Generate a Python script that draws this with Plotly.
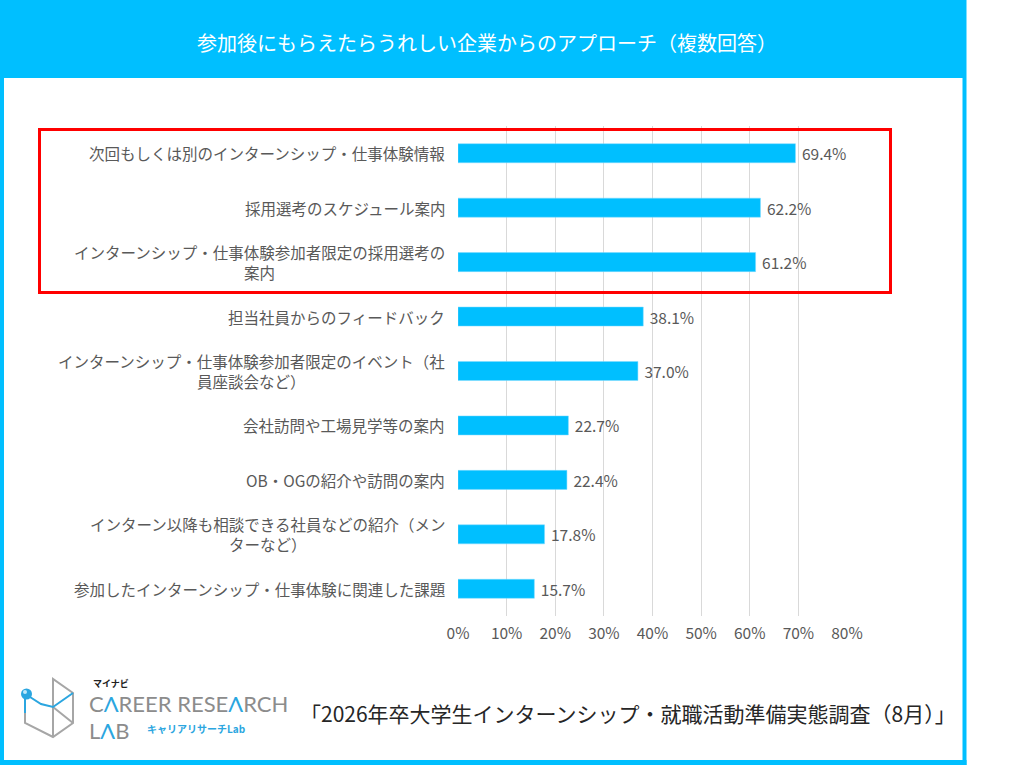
import plotly.graph_objects as go

# ---------------- data ----------------
categories = [
    "次回もしくは別のインターンシップ・仕事体験情報",
    "採用選考のスケジュール案内",
    "インターンシップ・仕事体験参加者限定の採用選考の<br>案内",
    "担当社員からのフィードバック",
    "インターンシップ・仕事体験参加者限定のイベント（社<br>員座談会など）",
    "会社訪問や工場見学等の案内",
    "OB・OGの紹介や訪問の案内",
    "インターン以降も相談できる社員などの紹介（メン<br>ターなど）",
    "参加したインターンシップ・仕事体験に関連した課題",
]
values = [69.4, 62.2, 61.2, 38.1, 37.0, 22.7, 22.4, 17.8, 15.7]
tick_vals = [0, 10, 20, 30, 40, 50, 60, 70, 80]
tick_text = ["0%", "10%", "20%", "30%", "40%", "50%", "60%", "70%", "80%"]
title_text = "参加後にもらえたらうれしい企業からのアプローチ（複数回答）"
source_text = "「2026年卒大学生インターンシップ・就職活動準備実態調査（8月）」"

# ---------------- layout helpers ----------------
FW, FH = 1024, 765
L, R, T, B = 458, 847, 126, 616
W, H = R - L, B - T


def px(x):
    return (x - L) / W


def py(y):
    return 1 - (y - T) / H


CYAN = "#00BFFF"
BLUE = "#2BA6E0"
GRAY_TXT = "#595959"
FONT = "Noto Sans CJK JP"

ids = list(range(len(categories)))

fig = go.Figure()
fig.add_trace(go.Bar(
    x=values,
    y=ids,
    orientation="h",
    width=0.35,
    marker=dict(color=CYAN, line=dict(color="#7FDBFF", width=0.5)),
    text=[f" {v:.1f}%" for v in values],
    textposition="outside",
    constraintext="none",
    textfont=dict(family=FONT, size=15.5, color=GRAY_TXT),
    cliponaxis=False,
    hoverinfo="skip",
))

annotations = []
for i, c in enumerate(categories):
    annotations.append(dict(
        x=px(447), y=i, xref="paper", yref="y", text=c, showarrow=False,
        xanchor="right", yanchor="middle", align="center",
        font=dict(family=FONT, size=15.5, color=GRAY_TXT),
    ))

# title
annotations.append(dict(
    x=px(487), y=py(43), xref="paper", yref="paper", text=title_text,
    showarrow=False, xanchor="center", yanchor="middle",
    font=dict(family=FONT, size=20, color="white"),
))
# source
annotations.append(dict(
    x=px(958), y=py(713), xref="paper", yref="paper", text=source_text,
    showarrow=False, xanchor="right", yanchor="middle",
    font=dict(family=FONT, size=21, color="#262626"),
))
# logo texts
annotations.append(dict(
    x=px(91), y=py(683), xref="paper", yref="paper", text="<b>マイナビ</b>",
    showarrow=False, xanchor="left", yanchor="middle",
    font=dict(family=FONT, size=9, color="#222222"),
))
annotations.append(dict(
    x=px(87), y=py(703), xref="paper", yref="paper",
    text=f"C<span style='color:{BLUE}'>Λ</span>REER RESE<span style='color:{BLUE}'>Λ</span>RCH",
    showarrow=False, xanchor="left", yanchor="middle",
    font=dict(family="Lato", size=22, color="#8C8C8C"),
))
annotations.append(dict(
    x=px(87), y=py(730), xref="paper", yref="paper",
    text=f"L<span style='color:{BLUE}'>Λ</span>B",
    showarrow=False, xanchor="left", yanchor="middle",
    font=dict(family="Lato", size=22, color="#8C8C8C"),
))
annotations.append(dict(
    x=px(145), y=py(728), xref="paper", yref="paper", text="<b>キャリアリサーチLab</b>",
    showarrow=False, xanchor="left", yanchor="middle",
    font=dict(family=FONT, size=10, color=BLUE),
))


def path(points):
    return "M " + " L ".join(f"{px(x):.5f},{py(y):.5f}" for x, y in points)


shapes = [
    # header band
    dict(type="rect", xref="paper", yref="paper", x0=px(0), x1=px(964), y0=py(78), y1=py(0),
         fillcolor=CYAN, line=dict(width=0), layer="below"),
    # frame borders
    dict(type="line", xref="paper", yref="paper", x0=px(2), x1=px(2), y0=py(0), y1=py(765),
         line=dict(color=CYAN, width=4)),
    dict(type="line", xref="paper", yref="paper", x0=px(964.5), x1=px(964.5), y0=py(0), y1=py(765),
         line=dict(color=CYAN, width=4)),
    dict(type="line", xref="paper", yref="paper", x0=px(0), x1=px(966.5), y0=py(762.5), y1=py(762.5),
         line=dict(color=CYAN, width=5)),
    # red highlight box
    dict(type="rect", xref="paper", yref="paper", x0=px(39.5), x1=px(890.5), y0=py(292.5), y1=py(129.5),
         line=dict(color="#FF0000", width=3), fillcolor="rgba(0,0,0,0)"),
    # logo icon - gray outline
    dict(type="path", xref="paper", yref="paper",
         path=path([(25, 713), (25, 723), (53, 737), (73, 723), (73, 693), (53, 679), (53, 737)]),
         line=dict(color="#A6A6A6", width=2)),
    dict(type="path", xref="paper", yref="paper",
         path=path([(53, 707), (73, 723)]),
         line=dict(color="#A6A6A6", width=2)),
    # logo icon - blue
    dict(type="path", xref="paper", yref="paper",
         path=path([(25, 697), (25, 713)]),
         line=dict(color=BLUE, width=2)),
    dict(type="path", xref="paper", yref="paper",
         path=path([(30, 697), (41, 704), (53, 707), (73, 693)]),
         line=dict(color=BLUE, width=2)),
    dict(type="circle", xref="paper", yref="paper", x0=px(21), x1=px(32), y0=py(699.5), y1=py(688.5),
         fillcolor=BLUE, line=dict(width=0)),
    dict(type="circle", xref="paper", yref="paper", x0=px(23), x1=px(27), y0=py(694), y1=py(690),
         fillcolor="#BFE8FA", line=dict(width=0)),
]

fig.update_layout(
    width=FW, height=FH,
    margin=dict(l=L, r=FW - R, t=T, b=FH - B, pad=0),
    paper_bgcolor="white", plot_bgcolor="white",
    showlegend=False,
    xaxis=dict(range=[0, 80], tickvals=tick_vals, ticktext=tick_text,
               showgrid=True, gridcolor="#D9D9D9", gridwidth=1, zeroline=False,
               showline=False, ticks="", fixedrange=True, ticklabelstandoff=6,
               tickfont=dict(family=FONT, size=15.5, color=GRAY_TXT)),
    yaxis=dict(range=[len(categories) - 0.5, -0.5], showticklabels=False, showgrid=False,
               zeroline=False, showline=False, ticks="", fixedrange=True),
    annotations=annotations,
    shapes=shapes,
    bargap=0.65,
)

fig.write_html(
    "out.html",
    config={"displayModeBar": False, "staticPlot": True},
    post_script="document.body.style.margin='0';document.body.style.overflow='hidden';",
)
